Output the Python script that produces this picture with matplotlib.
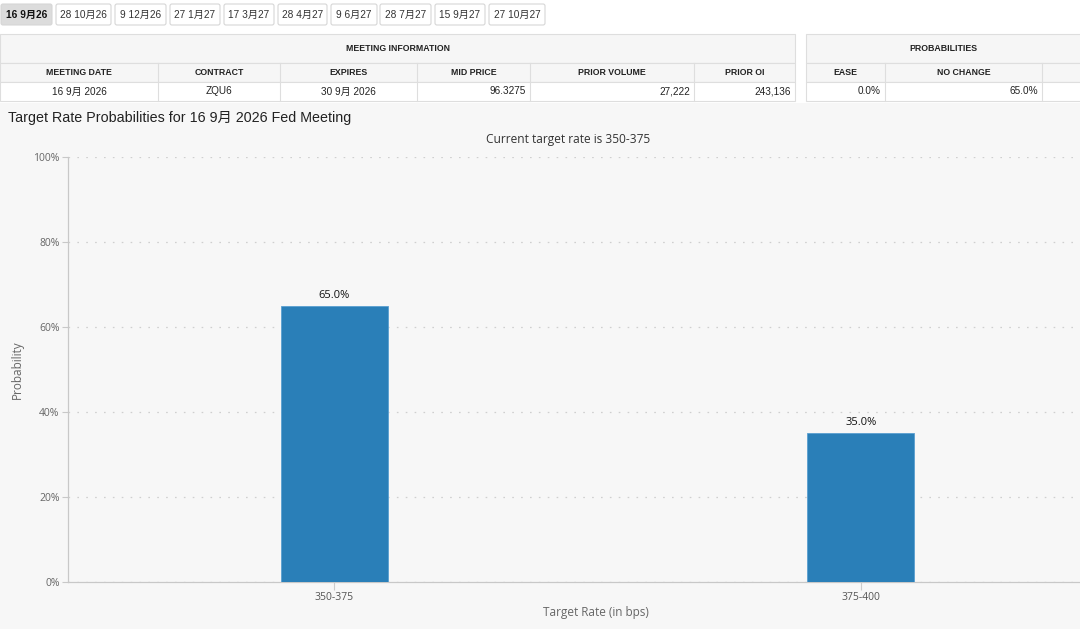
import matplotlib.pyplot as plt
from matplotlib.patches import Rectangle, FancyBboxPatch
from matplotlib.ticker import PercentFormatter

# Data
tab_labels = ['16 9月26', '28 10月26', '9 12月26', '27 1月27', '17 3月27',
              '28 4月27', '9 6月27', '28 7月27', '15 9月27', '27 10月27']
meeting_cols = ['MEETING DATE', 'CONTRACT', 'EXPIRES', 'MID PRICE', 'PRIOR VOLUME', 'PRIOR OI']
meeting_vals = ['16 9月 2026', 'ZQU6', '30 9月 2026', '96.3275', '27,222', '243,136']
prob_cols = ['EASE', 'NO CHANGE', 'HIKE']
prob_vals = ['0.0%', '65.0%', '35.0%']

rate_bins = ['350-375', '375-400']
probs = [65.0, 35.0]
current_rate = '350-375'
meeting_date = '16 9月 2026'

# Layout in screen pixels
W, H = 1080, 629
tab_edges = [(1, 52), (56, 111), (115, 166), (170, 220), (224, 274),
             (278, 327), (331, 377), (380, 431), (435, 485), (489, 545)]
meeting_edges = [0, 158, 280, 417, 530, 694, 795]
meeting_align = ['center', 'center', 'center', 'right', 'right', 'right']
prob_edges = [806, 885, 1042, 1200]
ui_font = ['Liberation Sans', 'Noto Sans CJK SC', 'DejaVu Sans']
chart_font = ['Open Sans', 'Noto Sans CJK SC', 'DejaVu Sans']
border = '#dedede'

fig = plt.figure(figsize=(W / 100, H / 100), dpi=100)
fig.patch.set_facecolor('white')

# Full-figure axes in pixel coordinates for the page furniture
ui = fig.add_axes([0, 0, 1, 1])
ui.set_xlim(0, W)
ui.set_ylim(H, 0)
ui.axis('off')

# Tabs
for i, (lab, (x0, x1)) in enumerate(zip(tab_labels, tab_edges)):
    sel = i == 0
    ui.add_patch(FancyBboxPatch((x0, 4), x1 - x0, 21, boxstyle='round,pad=0,rounding_size=2',
                                facecolor='#dcdcdc' if sel else 'white',
                                edgecolor='#d6d6d6', linewidth=0.8))
    ui.text((x0 + x1) / 2, 14.5, lab, ha='center', va='center', fontsize=7.3,
            color='#111' if sel else '#333', family=ui_font,
            fontweight='bold' if sel else 'normal')


def draw_table(edges, cols, vals, aligns, title):
    x0, x1 = edges[0], edges[-1]
    ui.add_patch(Rectangle((x0, 34), x1 - x0, 29, facecolor='#f6f6f6', edgecolor=border, lw=0.8))
    ui.add_patch(Rectangle((x0, 63), x1 - x0, 19, facecolor='#f6f6f6', edgecolor=border, lw=0.8))
    ui.add_patch(Rectangle((x0, 82), x1 - x0, 19, facecolor='white', edgecolor=border, lw=0.8))
    ui.text((x0 + min(x1, 1080)) / 2, 48.5, title, ha='center', va='center', fontsize=6.3,
            fontweight='bold', color='#222', family=ui_font)
    for j, (c, v, a) in enumerate(zip(cols, vals, aligns)):
        l, r = edges[j], edges[j + 1]
        if j > 0:
            ui.plot([l, l], [63, 101], color=border, lw=0.8)
        if r > W + 20:
            # column runs off the screenshot; its text is not visible
            continue
        ui.text((l + r) / 2, 72.5, c, ha='center', va='center', fontsize=6.3,
                fontweight='bold', color='#222', family=ui_font)
        tx = (l + r) / 2 if a == 'center' else r - 4
        ui.text(tx, 91.5, v, ha=a, va='center', fontsize=7.2, color='#222', family=ui_font)


draw_table(meeting_edges, meeting_cols, meeting_vals, meeting_align, 'MEETING INFORMATION')
draw_table(prob_edges, prob_cols, prob_vals, ['right'] * 3, 'PROBABILITIES')

# Chart panel background
ui.add_patch(Rectangle((0, 103), W, H - 103, facecolor='#f7f7f7', edgecolor='none'))

fig.text(8 / W, 1 - 118 / H, f'Target Rate Probabilities for {meeting_date} Fed Meeting',
         ha='left', va='center', fontsize=10.3, color='#222', family=ui_font)
fig.text(568 / W, 1 - 140 / H, f'Current target rate is {current_rate}',
         ha='center', va='center', fontsize=8.6, color='#333', family=chart_font)

# Bar chart (plot area runs past the right edge of the screenshot)
ax = fig.add_axes([68 / W, 1 - 582 / H, (1124 - 68) / W, (582 - 157) / H], facecolor='none')
x = list(range(len(rate_bins)))
bars = ax.bar(x, probs, width=0.203, color='#2a7fb8', edgecolor='#5a9fd0',
              linewidth=0.6, zorder=3)
ax.bar_label(bars, labels=[f'{p:.1f}%' for p in probs], padding=3.5,
             fontsize=8, color='#111', family=chart_font)

ax.set_xlim(-0.5057, 1.5)
ax.set_ylim(0, 100)
ax.set_yticks(range(0, 101, 20))
ax.yaxis.set_major_formatter(PercentFormatter(decimals=0))
ax.set_xticks(x)
ax.set_xticklabels(rate_bins)

ax.yaxis.grid(True, linestyle=(0, (1.3, 5.8)), color='#cfcfcf', linewidth=0.9, zorder=0)
for s in ['top', 'right']:
    ax.spines[s].set_visible(False)
for s in ['left', 'bottom']:
    ax.spines[s].set_color('#c8c8c8')
    ax.spines[s].set_linewidth(0.9)

ax.tick_params(axis='y', length=4, width=0.8, color='#c8c8c8', labelcolor='#666',
               labelsize=7.5, pad=2)
ax.tick_params(axis='x', length=6, width=0.8, color='#cccccc', labelcolor='#555',
               labelsize=7.5, pad=1)
for lab in ax.get_xticklabels() + ax.get_yticklabels():
    lab.set_family(chart_font)

ax.set_xlabel('Target Rate (in bps)', fontsize=8.5, color='#666', family=chart_font, labelpad=2.5)
ax.set_ylabel('Probability', fontsize=8.5, color='#666', family=chart_font, labelpad=7)

fig.savefig('out.png', dpi=100)
